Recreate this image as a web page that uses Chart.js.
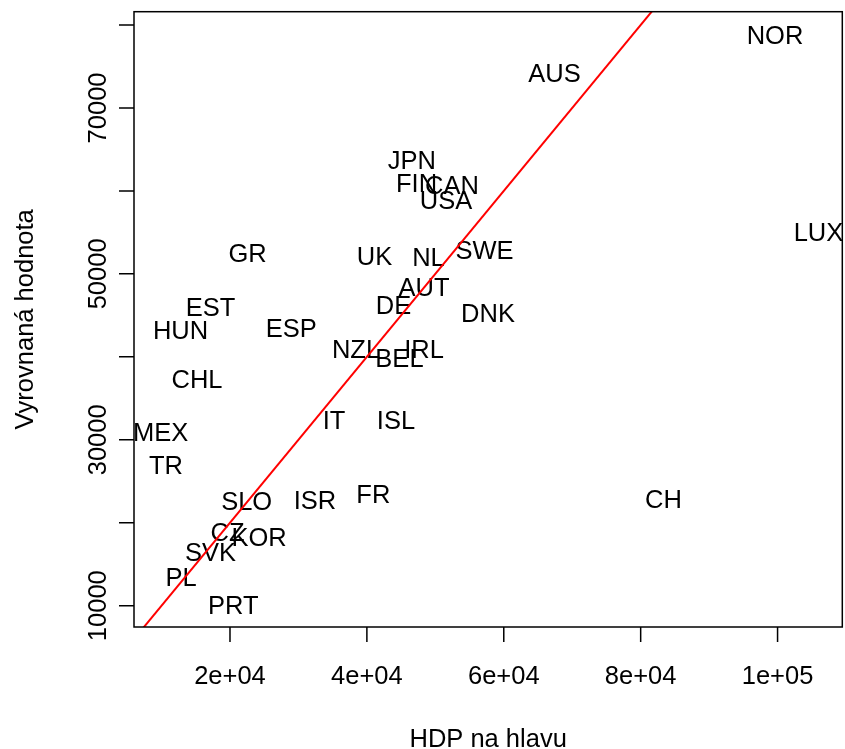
<!DOCTYPE html>
<html>
<head>
<meta charset="utf-8">
<script src="https://cdn.jsdelivr.net/npm/chart.js@4.4.1/dist/chart.umd.min.js"></script>
<style>
  body { margin: 0; background: #fff; }
  #wrap { width: 845px; height: 749px; }
</style>
</head>
<body>
<div id="wrap"><canvas id="myChart"></canvas></div>
<script>
// zeme, HDP na hlavu (x) a vyrovnana hodnota (y)
const countries = ['NOR','AUS','LUX','JPN','FIN','CAN','USA','SWE','GR','UK','NL','AUT','DE','DNK','EST','HUN','ESP','NZL','BEL','IRL','CHL','IT','ISL','MEX','TR','SLO','ISR','FR','CZ','KOR','SVK','PL','PRT','CH']
const hdp = [99630, 67410, 105980, 46550, 47250, 52430, 51560, 57180, 22560, 41110, 49000, 48340, 43890, 57700, 17150, 12770, 28960, 38410, 44760, 48340, 15180, 35200, 44250, 9850, 10650, 22440, 32420, 40940, 19640, 24240, 17150, 12840, 20480, 83330]
const fitted = [78850, 74210, 55080, 63720, 60950, 60710, 58900, 52880, 52510, 52150, 52030, 48420, 46250, 45250, 45970, 43230, 43440, 40940, 39820, 40910, 37290, 32390, 32390, 30970, 26960, 22660, 22740, 23460, 18920, 18240, 16440, 13500, 10090, 22860]

// primka y = x
const lineX = [0, 120000]
const lineY = [0, 120000]

const xTicks = [20000, 40000, 60000, 80000, 100000]
const xTickLabels = ['2e+04', '4e+04', '6e+04', '8e+04', '1e+05']
const yTicks = [10000, 20000, 30000, 40000, 50000, 60000, 70000, 80000]
const yTickLabels = ['10000', '', '30000', '', '50000', '', '70000', '']

const FONT = '25.5px "Liberation Sans", Arial, sans-serif'

const labelsPlugin = {
    id: 'countryLabels',
    afterDatasetDraw(chart, args) {
        if (args.index !== 1) return
        const ctx = chart.ctx
        const area = chart.chartArea
        ctx.save()
        ctx.beginPath()
        ctx.rect(area.left, area.top, area.right - area.left, area.bottom - area.top)
        ctx.clip()
        ctx.font = FONT
        ctx.fillStyle = '#000'
        ctx.textAlign = 'center'
        ctx.textBaseline = 'alphabetic'
        args.meta.data.forEach((pt, i) => {
            ctx.fillText(countries[i], pt.x, pt.y + 9.1)
        })
        ctx.restore()
    }
}

const framePlugin = {
    id: 'rFrame',
    afterDraw(chart) {
        const ctx = chart.ctx
        const a = chart.chartArea
        const xs = chart.scales.x
        const ys = chart.scales.y
        ctx.save()
        ctx.strokeStyle = '#000'
        ctx.lineWidth = 1.5
        ctx.strokeRect(a.left, a.top, a.right - a.left, a.bottom - a.top)

        ctx.beginPath()
        xTicks.forEach(v => {
            const px = xs.getPixelForValue(v)
            ctx.moveTo(px, a.bottom)
            ctx.lineTo(px, a.bottom + 15)
        })
        yTicks.forEach(v => {
            const py = ys.getPixelForValue(v)
            ctx.moveTo(a.left, py)
            ctx.lineTo(a.left - 15, py)
        })
        ctx.stroke()

        ctx.fillStyle = '#000'
        ctx.font = FONT
        ctx.textAlign = 'center'
        ctx.textBaseline = 'alphabetic'
        xTicks.forEach((v, i) => {
            ctx.fillText(xTickLabels[i], xs.getPixelForValue(v), 683.5)
        })
        ctx.fillText('HDP na hlavu', (a.left + a.right) / 2, 746.5)

        yTicks.forEach((v, i) => {
            if (!yTickLabels[i]) return
            ctx.save()
            ctx.translate(106, ys.getPixelForValue(v))
            ctx.rotate(-Math.PI / 2)
            ctx.fillText(yTickLabels[i], 0, 0)
            ctx.restore()
        })

        ctx.save()
        ctx.translate(32.5, (a.top + a.bottom) / 2)
        ctx.rotate(-Math.PI / 2)
        ctx.fillText('Vyrovnaná hodnota', 0, 0)
        ctx.restore()
        ctx.restore()
    }
}

const ctx = document.getElementById('myChart').getContext('2d')
const myChart = new Chart(ctx, {
    type: 'scatter',
    data: {
        datasets: [{
            type: 'line',
            data: lineX.map((x, i) => ({x: x, y: lineY[i]})),
            borderColor: 'rgb(255, 0, 0)',
            borderWidth: 2,
            pointRadius: 0,
            fill: false
        }, {
            data: hdp.map((x, i) => ({x: x, y: fitted[i]})),
            pointRadius: 0,
            pointHoverRadius: 0
        }]
    },
    options: {
        responsive: true,
        maintainAspectRatio: false,
        animation: false,
        events: [],
        layout: {
            padding: {left: 134, right: 2.7, top: 11.7, bottom: 122}
        },
        plugins: {
            legend: {display: false},
            tooltip: {enabled: false}
        },
        scales: {
            x: {type: 'linear', min: 5976, max: 109458, display: false},
            y: {type: 'linear', min: 7433, max: 81602, display: false}
        }
    },
    plugins: [labelsPlugin, framePlugin]
})
</script>
</body>
</html>
